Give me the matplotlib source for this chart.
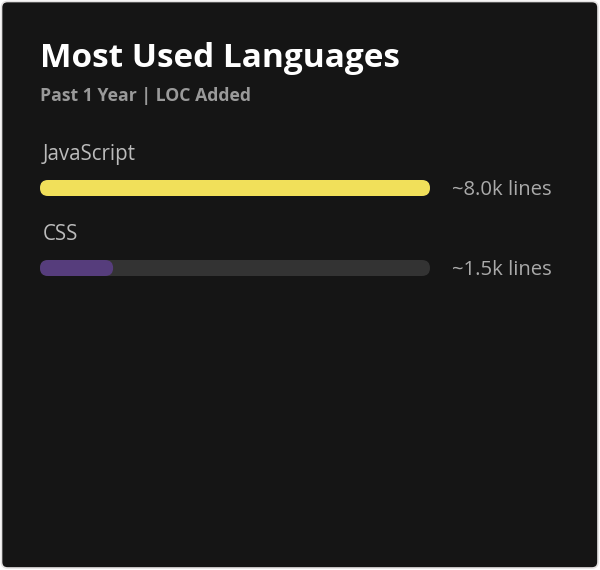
import matplotlib.pyplot as plt
from matplotlib.patches import FancyBboxPatch

languages = ["JavaScript", "CSS"]
lines_added = [8.0, 1.5]  # thousands of lines
colors = ["#f1e05a", "#563d7c"]
value_labels = ["~8.0k lines", "~1.5k lines"]

title = "Most Used Languages"
subtitle = "Past 1 Year | LOC Added"

W, H = 600, 570
fig = plt.figure(figsize=(W / 100, H / 100), dpi=100, facecolor="white")

# page axes in pixel units
page = fig.add_axes([0, 0, 1, 1])
page.set_xlim(0, W)
page.set_ylim(H, 0)
page.axis("off")
page.add_patch(FancyBboxPatch((1.5, 1.5), W - 3.5, H - 3.5,
                              boxstyle="round,pad=0,rounding_size=6",
                              fc="#151515", ec="#e4e2e2", lw=1.2))

font = "Open Sans"
page.text(40, 67, title, color="white", fontsize=24, fontweight="bold",
          family=font, va="baseline")
page.text(40, 101, subtitle, color="#9a9a9a", fontsize=12.7, fontweight="bold",
          family=font, va="baseline")

# bar axes: x in thousands of lines, y in pixels
bar_left, bar_width = 40, 390
bars = fig.add_axes([bar_left / W, 0, bar_width / W, 1])
max_val = max(lines_added)
bars.set_xlim(0, max_val)
bars.set_ylim(H, 0)
bars.axis("off")
px_per_unit = bar_width / max_val
bar_h = 16
row_top = 180
row_step = 80
r = bar_h / 2 / px_per_unit

for i, (lang, val, c, lab) in enumerate(zip(languages, lines_added, colors, value_labels)):
    y = row_top + i * row_step
    style = "round,pad=0,rounding_size=%f" % r
    bars.add_patch(FancyBboxPatch((0, y), max_val, bar_h, boxstyle=style,
                                  mutation_aspect=px_per_unit, fc="#333333", ec="none"))
    bars.add_patch(FancyBboxPatch((0, y), val, bar_h, boxstyle=style,
                                  mutation_aspect=px_per_unit, fc=c, ec="none"))
    page.text(43, y - 20, lang, color="#bbbbbb", fontsize=14.8, family=font,
              va="baseline")
    page.text(452, y + 15, lab, color="#aaaaaa", fontsize=14.6, family=font,
              va="baseline")

fig.savefig("out.png", dpi=100, facecolor="white")
